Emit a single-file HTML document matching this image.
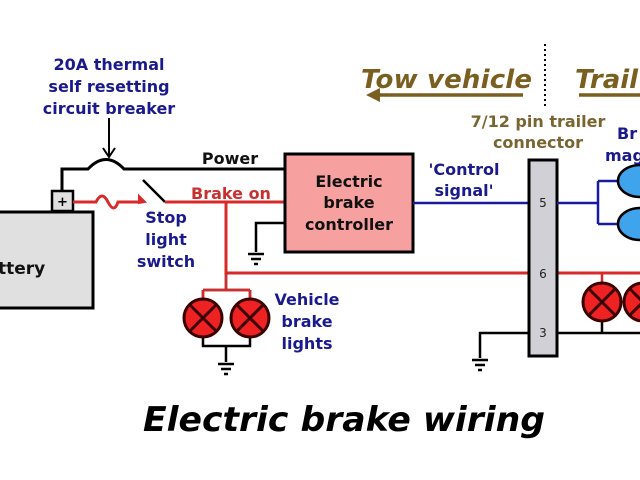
<!DOCTYPE html>
<html><head><meta charset="utf-8"><style>
html,body{margin:0;padding:0;background:#fff;width:640px;height:480px;overflow:hidden}
text{font-family:"DejaVu Sans","Liberation Sans",sans-serif;font-weight:bold}
</style></head><body>
<svg width="640" height="480" viewBox="0 0 640 480" xmlns="http://www.w3.org/2000/svg">
<defs>
<g id="gnd" stroke="#000" stroke-width="2.5"><line x1="-8" y1="0" x2="8" y2="0"/><line x1="-5" y1="5" x2="5" y2="5"/><line x1="-2" y1="10" x2="2" y2="10"/></g>
<g id="lamp"><circle r="19" fill="#ee2222" stroke="#3a0000" stroke-width="3"/><line x1="-13" y1="-13" x2="13" y2="13" stroke="#3a0000" stroke-width="3"/><line x1="-13" y1="13" x2="13" y2="-13" stroke="#3a0000" stroke-width="3"/></g>
</defs>
<!-- battery -->
<rect x="-10" y="212" width="103" height="96" fill="#e0e0e0" stroke="#000" stroke-width="3"/>
<text x="-2" y="274" font-size="17" fill="#111">ttery</text>
<rect x="52" y="191" width="21" height="20" fill="#e0e0e0" stroke="#000" stroke-width="2.5"/>
<text x="62.5" y="206" font-size="13" text-anchor="middle" fill="#000">+</text>
<!-- power wire -->
<path d="M62 191 V169 H88 Q106 150 124 169 H286" fill="none" stroke="#000" stroke-width="3"/>
<line x1="109" y1="118" x2="109" y2="155" stroke="#000" stroke-width="2"/>
<path d="M103 148 L109 157 L115 148" fill="none" stroke="#000" stroke-width="2"/>
<text x="230" y="164" font-size="16" fill="#111" text-anchor="middle">Power</text>
<!-- brake on red -->
<path d="M73 202 H96 Q102 190 108 202 Q114 214 118 202 H140" fill="none" stroke="#d82a2a" stroke-width="3"/>
<path d="M139 196 L145 202 L139 203 Z" fill="#d82a2a" stroke="#d82a2a" stroke-width="2"/>
<line x1="143" y1="180" x2="165" y2="202" stroke="#000" stroke-width="2.5"/>
<line x1="165" y1="202" x2="286" y2="202" stroke="#d82a2a" stroke-width="3"/>
<text x="231" y="199" font-size="16" fill="#c83030" text-anchor="middle">Brake on</text>
<path d="M226 202 V273 H640" fill="none" stroke="#d82a2a" stroke-width="3"/>
<text font-size="16" fill="#1a1a8c" text-anchor="middle"><tspan x="166" y="223">Stop</tspan><tspan x="166" y="245">light</tspan><tspan x="166" y="267">switch</tspan></text>
<text font-size="16" fill="#1a1a8c" text-anchor="middle"><tspan x="109" y="70">20A thermal</tspan><tspan x="109" y="92">self resetting</tspan><tspan x="109" y="114">circuit breaker</tspan></text>
<!-- vehicle lamps -->
<path d="M226 273 V290 M203 290 H250 M203 290 V300 M250 290 V300 M203 336 V346 H250 V336 M226 346 V362" fill="none" stroke="#000" stroke-width="2.5"/>
<path d="M226 273 V290 M203 290 H250 M203 290 V300 M250 290 V300" fill="none" stroke="#d82a2a" stroke-width="2.5"/>
<use href="#lamp" x="203" y="318"/><use href="#lamp" x="250" y="318"/>
<use href="#gnd" x="226" y="364"/>
<text font-size="16" fill="#1a1a8c" text-anchor="middle"><tspan x="307" y="305">Vehicle</tspan><tspan x="307" y="327">brake</tspan><tspan x="307" y="349">lights</tspan></text>
<!-- controller -->
<path d="M286 223 H256 V252" fill="none" stroke="#000" stroke-width="2.5"/>
<use href="#gnd" x="256" y="254"/>
<rect x="285" y="154" width="128" height="98" fill="#f6a0a0" stroke="#000" stroke-width="3"/>
<text font-size="16" fill="#111" text-anchor="middle"><tspan x="349" y="187">Electric</tspan><tspan x="349" y="208">brake</tspan><tspan x="349" y="230">controller</tspan></text>
<!-- control signal -->
<line x1="413" y1="203" x2="529" y2="203" stroke="#1a1aa0" stroke-width="2.5"/>
<text font-size="16" fill="#1a1a8c" text-anchor="middle"><tspan x="464" y="175">'Control</tspan><tspan x="464" y="196">signal'</tspan></text>
<!-- connector -->
<path d="M529 333 H480 V358" fill="none" stroke="#000" stroke-width="2.5"/>
<use href="#gnd" x="480" y="360"/>
<rect x="529" y="160" width="28" height="196" fill="#d0d0d6" stroke="#000" stroke-width="3"/>
<text font-size="12" font-weight="normal" fill="#222" text-anchor="middle" style="font-weight:normal"><tspan x="543" y="207">5</tspan><tspan x="543" y="278">6</tspan><tspan x="543" y="337">3</tspan></text>
<text font-size="16" fill="#7a6530" text-anchor="middle"><tspan x="538" y="127">7/12 pin trailer</tspan><tspan x="538" y="148">connector</tspan></text>
<!-- trailer side -->
<path d="M557 203 H598 M598 181 V224 M598 181 H622 M598 224 H622" fill="none" stroke="#1a1aa0" stroke-width="2.5"/>
<ellipse cx="640" cy="181" rx="22" ry="16" fill="#3fa4ec" stroke="#000" stroke-width="2.5"/>
<ellipse cx="640" cy="224" rx="22" ry="16" fill="#3fa4ec" stroke="#000" stroke-width="2.5"/>
<path d="M557 333 H640 M602 333 V320" fill="none" stroke="#000" stroke-width="2.5"/>
<path d="M602 273 V284" stroke="#d82a2a" stroke-width="2.5"/>
<use href="#lamp" x="602" y="302"/><use href="#lamp" x="643" y="302"/>
<text font-size="16" fill="#1a1a8c"><tspan x="617" y="139">Br</tspan><tspan x="605" y="161">mag</tspan></text>
<!-- header -->
<line x1="545" y1="44" x2="545" y2="108" stroke="#000" stroke-width="2" stroke-dasharray="2,3"/>
<text x="361" y="88" font-size="26" font-style="italic" fill="#7a5f20" textLength="171">Tow vehicle</text>
<line x1="376" y1="95" x2="523" y2="95" stroke="#7a5f20" stroke-width="3.5"/>
<path d="M366 95 L380 88 L380 102 Z" fill="#7a5f20"/>
<text x="575" y="88" font-size="26" font-style="italic" fill="#7a5f20">Trail</text>
<line x1="579" y1="95" x2="640" y2="95" stroke="#7a5f20" stroke-width="3.5"/>
<text x="143" y="431" font-size="34" font-style="italic" fill="#000" textLength="402" lengthAdjust="spacingAndGlyphs">Electric brake wiring</text>
</svg>
</body></html>
